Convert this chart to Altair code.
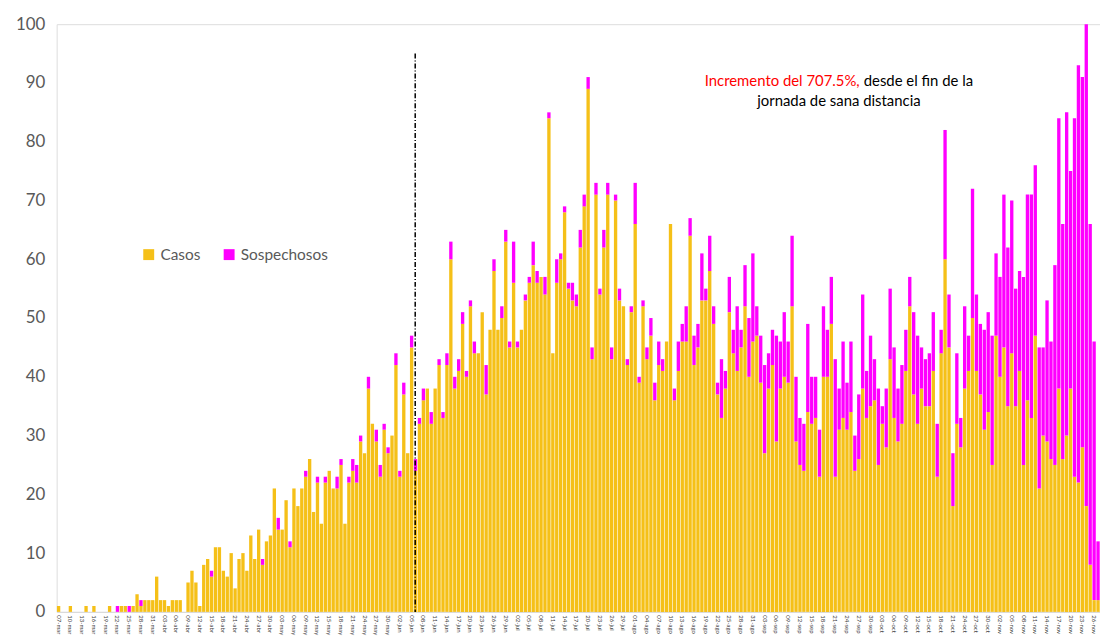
import altair as alt
import pandas as pd

meses = ["ene", "feb", "mar", "abr", "may", "jun", "jul", "ago", "sep", "oct", "nov", "dic"]
dias = pd.date_range("2020-03-07", "2020-11-27", freq="D")
fechas = [f"{d.day:02d}-{meses[d.month - 1]}" for d in dias]

casos = [
    1, 0, 0, 1, 0, 0, 0, 1, 0, 1, 0, 0, 0, 1, 0, 0, 1, 1, 0, 1,
    3, 1, 2, 2, 2, 6, 2, 2, 1, 2, 2, 2, 0, 5, 7, 5, 1, 8, 9, 6,
    11, 11, 7, 6, 10, 4, 9, 10, 7, 13, 9, 14, 8, 12, 13, 21, 14, 14, 19, 11,
    21, 18, 21, 23, 26, 17, 22, 15, 22, 24, 21, 21, 25, 15, 22, 24, 22, 29, 27, 38,
    32, 29, 23, 31, 27, 30, 42, 23, 37, 27, 45, 24, 32, 36, 38, 32, 38, 42, 33, 42,
    60, 38, 41, 49, 40, 52, 44, 44, 51, 37, 48, 58, 48, 50, 63, 45, 56, 45, 48, 53,
    56, 59, 56, 57, 54, 84, 44, 56, 60, 68, 55, 53, 52, 62, 69, 89, 43, 71, 54, 62,
    71, 43, 70, 53, 52, 42, 51, 66, 39, 52, 43, 47, 36, 42, 41, 46, 66, 36, 41, 46,
    46, 64, 42, 45, 53, 53, 58, 49, 37, 33, 38, 51, 44, 41, 45, 52, 40, 46, 47, 39,
    27, 38, 42, 29, 38, 40, 39, 52, 29, 25, 24, 34, 32, 33, 23, 40, 40, 49, 23, 31,
    33, 31, 34, 24, 26, 38, 33, 35, 36, 25, 32, 28, 43, 33, 29, 32, 41, 52, 37, 32,
    38, 35, 35, 41, 23, 44, 60, 45, 18, 32, 28, 38, 41, 50, 41, 37, 31, 34, 25, 47,
    40, 45, 35, 44, 35, 41, 25, 36, 33, 47, 21, 30, 29, 26, 25, 38, 26, 30, 38, 23,
    22, 28, 18, 8, 2, 2,
]
sospechosos = [
    0, 0, 0, 0, 0, 0, 0, 0, 0, 0, 0, 0, 0, 0, 0, 1, 0, 0, 1, 0,
    0, 1, 0, 0, 0, 0, 0, 0, 0, 0, 0, 0, 0, 0, 0, 0, 0, 0, 0, 1,
    0, 0, 0, 0, 0, 0, 0, 0, 0, 0, 0, 0, 1, 0, 0, 0, 2, 0, 0, 1,
    0, 0, 0, 1, 0, 0, 1, 0, 1, 0, 0, 2, 1, 0, 1, 2, 3, 1, 0, 2,
    0, 2, 2, 1, 1, 0, 2, 1, 2, 0, 2, 2, 1, 2, 0, 2, 0, 1, 1, 2,
    3, 2, 2, 2, 1, 1, 2, 0, 0, 5, 0, 2, 0, 2, 2, 1, 7, 1, 0, 1,
    1, 4, 2, 0, 3, 1, 0, 4, 1, 1, 1, 3, 2, 3, 2, 2, 2, 2, 1, 3,
    2, 2, 1, 2, 0, 1, 1, 7, 1, 1, 2, 3, 3, 4, 2, 0, 0, 2, 5, 3,
    6, 3, 5, 4, 8, 2, 6, 3, 2, 10, 3, 6, 4, 11, 3, 7, 10, 15, 5, 8,
    15, 6, 6, 18, 8, 11, 7, 12, 11, 8, 8, 15, 8, 7, 8, 12, 8, 8, 20, 7,
    13, 8, 12, 6, 11, 16, 8, 12, 7, 13, 3, 10, 12, 12, 9, 10, 7, 5, 14, 15,
    7, 8, 9, 10, 9, 4, 22, 9, 9, 12, 5, 14, 6, 22, 13, 12, 17, 17, 22, 14,
    17, 26, 27, 26, 20, 17, 32, 35, 38, 29, 24, 15, 24, 20, 34, 46, 40, 55, 37, 61,
    71, 63, 82, 58, 44, 10,
]

series = ["Casos", "Sospechosos"]
colores = ["#F5C018", "#FF00FF"]
fecha_regla = "06-jun"
tope_regla = 95
texto_rojo = "Incremento del 707.5%,"
texto_negro = "desde el fin de la"
texto_linea2 = "jornada de sana distancia"

filas = []
for f, c, s in zip(fechas, casos, sospechosos):
    filas.append({"fecha": f, "serie": series[0], "valor": c, "orden": 0})
    filas.append({"fecha": f, "serie": series[1], "valor": s, "orden": 1})
df = pd.DataFrame(filas)

FONT = "Lato"
x_scale = alt.Scale(domain=fechas, paddingInner=0.15, paddingOuter=0.075)
x_axis = alt.Axis(
    values=fechas[::3], labelAngle=90, labelFontSize=6, labelColor="#404040",
    labelFont=FONT, domainColor="#D9D9D9", ticks=False, labelPadding=3,
    title=None, labelOverlap=False, grid=False,
)
y_scale = alt.Scale(domain=[0, 100], nice=False)
y_axis = alt.Axis(
    values=list(range(0, 101, 10)), domain=False, ticks=False, grid=False,
    labelFontSize=17, labelColor="#595959", labelPadding=12, title=None, labelFont=FONT,
)

barras = alt.Chart(df).mark_bar().encode(
    x=alt.X("fecha:O", scale=x_scale, axis=x_axis),
    y=alt.Y("valor:Q", stack="zero", scale=y_scale, axis=y_axis),
    color=alt.Color(
        "serie:N",
        scale=alt.Scale(domain=series, range=colores),
        legend=alt.Legend(
            orient="none", legendX=85, legendY=224, direction="horizontal",
            symbolType="square", symbolSize=121, symbolStrokeWidth=0,
            labelFontSize=15.5, labelColor="#595959", labelFont=FONT,
            columnPadding=21, title=None, labelOffset=4,
        ),
    ),
    order=alt.Order("orden:Q", sort="ascending"),
)

regla = alt.Chart(pd.DataFrame({"fecha": [fecha_regla], "tope": [tope_regla]})).mark_rule(
    color="black", strokeWidth=1.5, strokeDash=[5, 2, 1, 2]
).encode(
    x=alt.X("fecha:O", scale=x_scale, axis=x_axis, bandPosition=0.4),
    y=alt.Y("tope:Q", scale=y_scale, axis=y_axis),
    y2=alt.datum(0),
)

t1 = alt.Chart(pd.DataFrame({"t": [texto_rojo]})).mark_text(
    align="right", baseline="middle", color="#FF0000", fontSize=15, font=FONT
).encode(x=alt.value(809), y=alt.value(57), text="t:N")

t2 = alt.Chart(pd.DataFrame({"t": [texto_negro]})).mark_text(
    align="left", baseline="middle", color="#000000", fontSize=15, font=FONT
).encode(x=alt.value(813), y=alt.value(57), text="t:N")

t3 = alt.Chart(pd.DataFrame({"t": [texto_linea2]})).mark_text(
    align="center", baseline="middle", color="#000000", fontSize=15, font=FONT
).encode(x=alt.value(788), y=alt.value(77), text="t:N")

chart = alt.layer(barras, regla, t1, t2, t3).properties(
    width=1051, height=592,
    autosize=alt.AutoSizeParams(type="none"),
    padding={"left": 49, "top": 14, "right": 0, "bottom": 22},
).configure_view(strokeWidth=0).configure(font=FONT)

chart.save("out.html", embed_options={"renderer": "svg", "actions": False})
